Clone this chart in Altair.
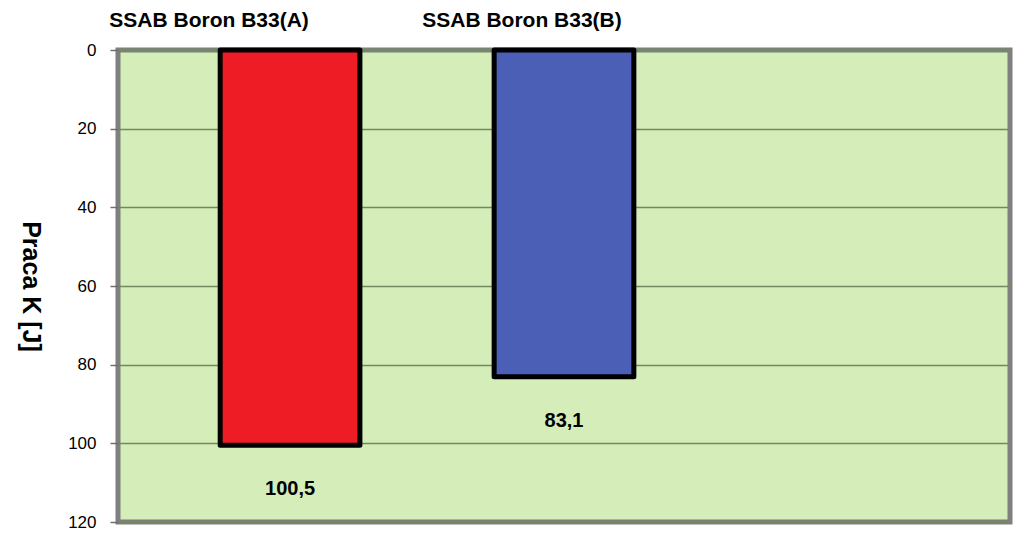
import altair as alt
import pandas as pd

categories = ["SSAB Boron B33(A)", "SSAB Boron B33(B)", " "]
values = [100.5, 83.1]
colors = ["#ee1c25", "#4a5fb5"]
y_ticks = [0, 20, 40, 60, 80, 100, 120]

df = pd.DataFrame({"cat": categories[:2], "val": values, "color": colors})

x_enc = alt.X(
    "cat:N",
    scale=alt.Scale(domain=categories, paddingInner=0, paddingOuter=0.128),
    sort=categories,
    axis=alt.Axis(
        orient="top", title=None, ticks=False, domain=False, labelAngle=0,
        labelFontSize=21, labelFontWeight="bold", labelFont="Liberation Sans",
        labelColor="black", labelPadding=20, labelLimit=0,
        labelOffset={"condition": {"test": "datum.value == 'SSAB Boron B33(A)'", "value": -81}, "value": -42},
    ),
)
y_enc = alt.Y(
    "val:Q",
    scale=alt.Scale(domain=[0, 120], reverse=True),
    axis=alt.Axis(
        values=y_ticks, title="Praca K [J]", titleAngle=90, titleFontSize=25,
        titleFontWeight="bold", titleFont="Liberation Sans", titleColor="black",
        titleX=-88, titleY=236, titleAlign="center", titleBaseline="middle",
        labelFontSize=17, labelFont="Liberation Sans", labelColor="black",
        labelPadding=14, tickSize=8, tickColor="#6f6f6f", tickWidth=1.5,
        domain=False, grid=True, gridColor="#6f8a5f", gridWidth=1.5,
    ),
)

bars = alt.Chart(df).mark_bar(
    width={"band": 0.51}, stroke="black", strokeWidth=5, strokeJoin="round"
).encode(
    x=x_enc, y=y_enc, color=alt.Color("color:N", scale=None)
)

labels = alt.Chart(df).transform_calculate(
    lbl="replace(format(datum.val, '.1f'), '.', ',')"
).mark_text(
    dy=44, fontSize=20, fontWeight="bold", font="Liberation Sans", color="black"
).encode(x=alt.X("cat:N", sort=categories), y="val:Q", text="lbl:N")

chart = alt.layer(bars, labels).properties(
    width=892, height=472,
    autosize=alt.AutoSizeParams(type="none"),
    padding={"left": 110, "top": 42, "right": 5, "bottom": 20},
).configure_view(
    fill="#d4edb9", stroke="#7f7f7f", strokeWidth=5
)

chart.save("out.html", embed_options={"renderer": "svg", "actions": False})
